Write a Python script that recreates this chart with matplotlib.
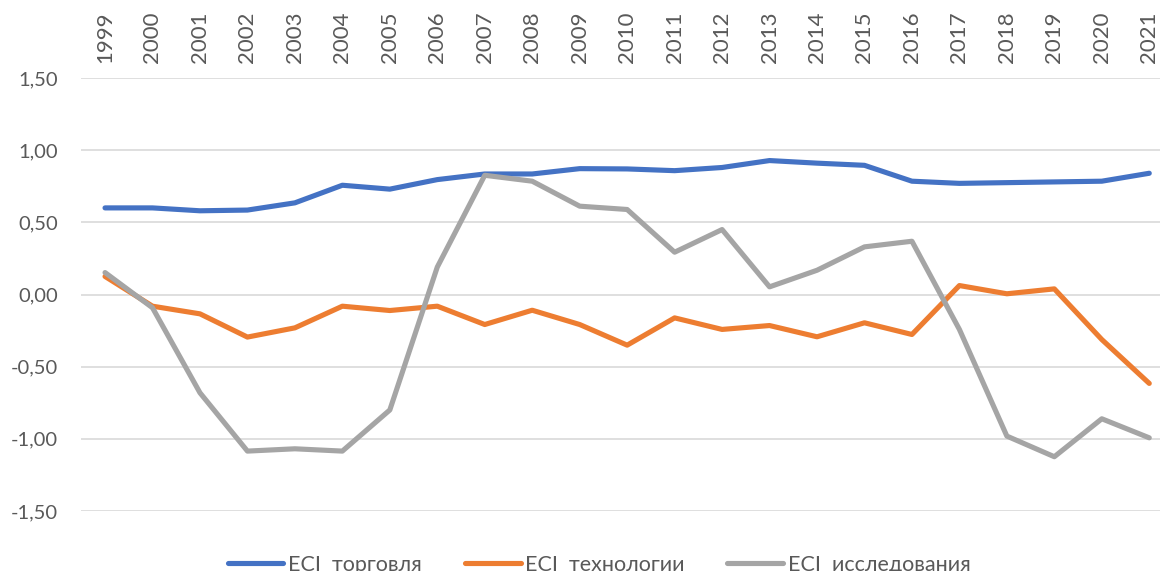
import matplotlib
matplotlib.use("Agg")
import matplotlib.pyplot as plt
from matplotlib.ticker import FixedLocator, FuncFormatter

years = [str(y) for y in range(1999, 2022)]
eci_trade = [0.60, 0.60, 0.58, 0.585, 0.635, 0.757, 0.73, 0.796, 0.835, 0.835, 0.872, 0.870,
             0.858, 0.880, 0.928, 0.910, 0.895, 0.785, 0.770, 0.775, 0.780, 0.785, 0.840]
eci_tech = [0.125, -0.081, -0.134, -0.295, -0.231, -0.081, -0.111, -0.081, -0.208, -0.109, -0.208, -0.351,
            -0.162, -0.242, -0.215, -0.293, -0.196, -0.277, 0.062, 0.005, 0.039, -0.312, -0.616]
eci_research = [0.152, -0.092, -0.681, -1.085, -1.069, -1.085, -0.800, 0.190, 0.826, 0.785, 0.612, 0.589,
                0.293, 0.450, 0.053, 0.168, 0.330, 0.369, -0.242, -0.981, -1.124, -0.861, -0.993]
series_names = ["ECI  торговля", "ECI  технологии", "ECI  исследования"]
y_ticks = [-1.5, -1.0, -0.5, 0.0, 0.5, 1.0, 1.5]

colors = ["#4472C4", "#ED7D31", "#A5A5A5"]
fonts = ["Lato", "Open Sans", "DejaVu Sans"]
plt.rcParams["font.family"] = fonts
text_color = "#595959"

fig = plt.figure(figsize=(11.6, 5.71), dpi=100)
ax = fig.add_axes([81.3 / 1160, 1 - 511 / 571, (1173 - 81.3) / 1160, (511 - 78) / 571])

x = list(range(len(years)))
for vals, name, c in zip([eci_trade, eci_tech, eci_research], series_names, colors):
    ax.plot(x, vals, color=c, lw=3.7, label=name, solid_capstyle="round", solid_joinstyle="round")

ax.set_xlim(-0.5, len(years) - 0.5)
ax.set_ylim(-1.5, 1.5)
ax.yaxis.set_major_locator(FixedLocator(y_ticks))
ax.yaxis.set_major_formatter(FuncFormatter(lambda v, p: f"{v:.2f}".replace(".", ",")))
ax.set_xticks(x)
ax.set_xticklabels(years, rotation=90)
ax.xaxis.tick_top()
ax.tick_params(axis="x", length=0, pad=11, labelsize=16, labelcolor=text_color)
ax.tick_params(axis="y", length=0, pad=17, labelsize=14.5, labelcolor=text_color)
ax.grid(axis="y", color="#D9D9D9", lw=1.2)
ax.set_axisbelow(True)
for s in ax.spines.values():
    s.set_visible(False)

leg = fig.legend(loc="center", bbox_to_anchor=(599 / 1160, 1 - 565 / 571), ncol=3, frameon=False,
                 fontsize=15.5, handlelength=2.6, handletextpad=0.2, columnspacing=2.0)
for t in leg.get_texts():
    t.set_color(text_color)

fig.savefig("out.png", dpi=100)
